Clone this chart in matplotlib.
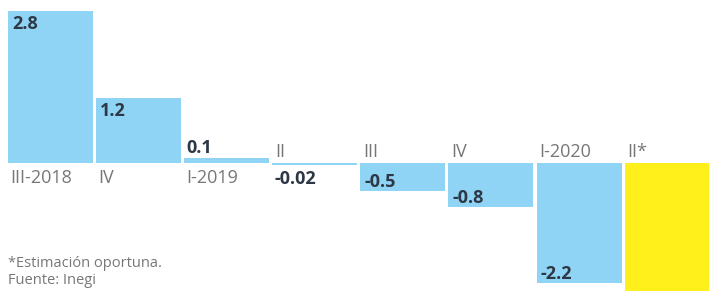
import matplotlib
matplotlib.use("Agg")
import matplotlib.pyplot as plt

categories = ["III-2018", "IV", "I-2019", "II", "III", "IV", "I-2020", "II*"]
values = [2.8, 1.2, 0.1, -0.02, -0.5, -0.8, -2.2, -17.3]
value_labels = ["2.8", "1.2", "0.1", "-0.02", "-0.5", "-0.8", "-2.2", "-17.3"]
footnotes = ["*Estimación oportuna.", "Fuente: Inegi"]

BLUE = "#8fd4f4"
YELLOW = "#fff01c"
colors = [BLUE] * 7 + [YELLOW]

plt.rcParams["font.family"] = ["Open Sans", "DejaVu Sans"]

fig = plt.figure(figsize=(7.09, 2.91), dpi=100)
ax = fig.add_axes([0, 0, 1, 1])
ax.axis("off")

w = 0.965
x = list(range(len(values)))
ax.bar(x, values, width=w, color=colors, linewidth=0)

PX = 0.72  # points per pixel
for i, (v, lab, cat) in enumerate(zip(values, value_labels, categories)):
    left = i - w / 2
    if v >= 0:
        if v > 0.3:
            ax.annotate(lab, xy=(left, v), xytext=(4 * PX, -18 * PX), textcoords="offset points",
                        ha="left", va="baseline", fontsize=13, fontweight="bold", color="#2e3746")
        else:
            ax.annotate(lab, xy=(left, v), xytext=(2 * PX, 5 * PX), textcoords="offset points",
                        ha="left", va="baseline", fontsize=13, fontweight="bold", color="#2e3746")
        ax.annotate(cat, xy=(left, 0), xytext=(2 * PX, -19.5 * PX), textcoords="offset points",
                    ha="left", va="baseline", fontsize=13, color="#777777")
    else:
        if v < -0.3:
            ax.annotate(lab, xy=(left, v), xytext=(4 * PX, 4 * PX), textcoords="offset points",
                        ha="left", va="baseline", fontsize=13, fontweight="bold", color="#2e3746",
                        annotation_clip=True)
        else:
            ax.annotate(lab, xy=(left, 0), xytext=(2 * PX, -21 * PX), textcoords="offset points",
                        ha="left", va="baseline", fontsize=13, fontweight="bold", color="#2e3746")
        ax.annotate(cat, xy=(left, 0), xytext=(3 * PX, 6.5 * PX), textcoords="offset points",
                    ha="left", va="baseline", fontsize=13, color="#777777")

ax.set_xlim(-0.573, 7.475)
ax.set_ylim(-2.34, 3.0)

fig.text(8 / 709, 1 - 267 / 291, footnotes[0], fontsize=10.5, color="#777777", ha="left", va="baseline")
fig.text(8 / 709, 1 - 284 / 291, footnotes[1], fontsize=10.5, color="#777777", ha="left", va="baseline")

fig.savefig("out.png", dpi=100)
